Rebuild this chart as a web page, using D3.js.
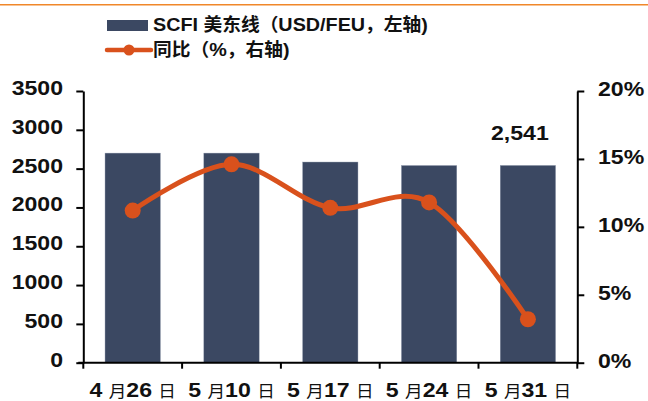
<!DOCTYPE html>
<html>
<head>
<meta charset="utf-8">
<script src="https://cdn.jsdelivr.net/npm/d3@7/dist/d3.min.js"></script>
<style>
  html, body { margin: 0; padding: 0; background: #fff; }
  svg { display: block; }
  text { font-family: "Liberation Sans", Arial, "Noto Sans CJK SC", sans-serif; font-weight: bold; fill: #111; }
</style>
</head>
<body>
<svg id="chart" width="648" height="401"></svg>
<script>
const categories = ["4 月26 日", "5 月10 日", "5 月17 日", "5 月24 日", "5 月31 日"];
const scfi = [2700, 2700, 2585, 2540, 2541];
const yoy = [11.2, 14.6, 11.4, 11.8, 3.2];
const leftTicks = [0, 500, 1000, 1500, 2000, 2500, 3000, 3500];
const rightTicks = [0, 5, 10, 15, 20];
const seriesNames = ["SCFI 美东线（USD/FEU，左轴)", "同比（%，右轴)"];
const lastLabel = "2,541";

const barColor = "#3B4862";
const lineColor = "#D9511C";
const SX = 1.1;
const latinFont = "Liberation Sans, Arial, sans-serif";
const cjkFont = "Noto Sans CJK SC, sans-serif";

const svg = d3.select("#chart");
const L = 83.3, R = 577.3, T = 91, B = 362.7;

// top orange rule
svg.append("line").attr("x1", 0).attr("x2", 648).attr("y1", 4.7).attr("y2", 4.7)
  .attr("stroke", "#F0872A").attr("stroke-width", 1.6);

const x = d3.scaleBand().domain(categories).range([L, R]).paddingInner(0.44).paddingOuter(0.22);
const yL = d3.scaleLinear().domain([0, 3500]).range([B, T]);
const yR = d3.scaleLinear().domain([0, 20]).range([B, T]);

function mixedText(g, str, px, py, anchor, latinSize, cjkSize, sx, cjkWeight) {
  const t = g.append("text")
    .attr("transform", `translate(${px},${py}) scale(${sx},1)`)
    .attr("text-anchor", anchor)
    .attr("xml:space", "preserve")
    .style("white-space", "pre");
  const parts = str.match(/[\u3000-\u9fff\uff00-\uffef]+|[^\u3000-\u9fff\uff00-\uffef]+/g);
  parts.forEach(p => {
    const isCjk = /[\u3000-\u9fff\uff00-\uffef]/.test(p);
    t.append("tspan").text(p)
      .style("font-family", isCjk ? cjkFont : latinFont)
      .style("font-weight", isCjk ? cjkWeight : "bold")
      .style("font-size", (isCjk ? cjkSize : latinSize) + "px");
  });
  return t;
}

// bars
svg.append("g").selectAll("rect").data(scfi).join("rect")
  .attr("x", (d, i) => x(categories[i]))
  .attr("width", x.bandwidth())
  .attr("y", d => yL(d))
  .attr("height", d => B - yL(d))
  .attr("fill", barColor)
  .attr("stroke", "#8a94a8").attr("stroke-width", 0.4);

// line
const pts = yoy.map((v, i) => [x(categories[i]) + x.bandwidth() / 2, yR(v)]);
svg.append("path").datum(pts)
  .attr("d", d3.line().curve(d3.curveCatmullRom.alpha(0)))
  .attr("fill", "none").attr("stroke", lineColor).attr("stroke-width", 5)
  .attr("stroke-linecap", "round");
svg.append("g").selectAll("circle").data(pts).join("circle")
  .attr("cx", d => d[0]).attr("cy", d => d[1]).attr("r", 8)
  .attr("fill", lineColor);

// left axis
const gl = svg.append("g").attr("transform", `translate(${L},0)`)
  .call(d3.axisLeft(yL).tickValues(leftTicks).tickSize(7).tickSizeOuter(0).tickFormat(d3.format("d")));
gl.select(".domain").attr("stroke", "#000").attr("stroke-width", 2);
gl.selectAll(".tick line").attr("stroke", "#000").attr("stroke-width", 2);
gl.selectAll(".tick text").remove();
leftTicks.forEach(v => {
  svg.append("text").attr("transform", `translate(63,${yL(v) + 4}) scale(${SX},1)`)
    .attr("text-anchor", "end").style("font-size", "21px").text(v);
});

// right axis
const gr = svg.append("g").attr("transform", `translate(${R},0)`)
  .call(d3.axisRight(yR).tickValues(rightTicks).tickSize(7).tickSizeOuter(0).tickFormat(d => d + "%"));
gr.select(".domain").attr("stroke", "#000").attr("stroke-width", 2);
gr.selectAll(".tick line").attr("stroke", "#000").attr("stroke-width", 2);
gr.selectAll(".tick text").remove();
rightTicks.forEach(v => {
  svg.append("text").attr("transform", `translate(598,${yR(v) + 5}) scale(${SX},1)`)
    .attr("text-anchor", "start").style("font-size", "21px").text(v + "%");
});

// bottom axis
svg.append("line").attr("x1", L - 5).attr("x2", R).attr("y1", B).attr("y2", B)
  .attr("stroke", "#000").attr("stroke-width", 2);
const bounds = categories.map(c => x(c) - x.step() * x.paddingInner() / 2).concat([R]);
svg.append("g").selectAll("line").data(bounds).join("line")
  .attr("x1", d => d).attr("x2", d => d).attr("y1", B).attr("y2", B + 6)
  .attr("stroke", "#000").attr("stroke-width", 2);

// x labels
const gx = svg.append("g");
categories.forEach(c => {
  mixedText(gx, c, x(c) + x.bandwidth() / 2, 397, "middle", 21, 16, SX, "normal");
});

// value label
svg.append("text")
  .attr("transform", `translate(${x(categories[4]) + x.bandwidth() / 2 - 8},140) scale(${SX},1)`)
  .attr("text-anchor", "middle").style("font-size", "21px").text(lastLabel);

// legend
const lg = svg.append("g");
lg.append("rect").attr("x", 107).attr("y", 20).attr("width", 41).attr("height", 11).attr("fill", barColor);
mixedText(lg, seriesNames[0], 153, 31, "start", 19, 18, 1.04, "bold");
lg.append("line").attr("x1", 107).attr("x2", 151).attr("y1", 50).attr("y2", 50)
  .attr("stroke", lineColor).attr("stroke-width", 4.5).attr("stroke-linecap", "round");
lg.append("circle").attr("cx", 129).attr("cy", 50).attr("r", 5.5).attr("fill", lineColor);
mixedText(lg, seriesNames[1], 153, 56, "start", 19, 18, 1.04, "bold");
</script>
</body>
</html>
